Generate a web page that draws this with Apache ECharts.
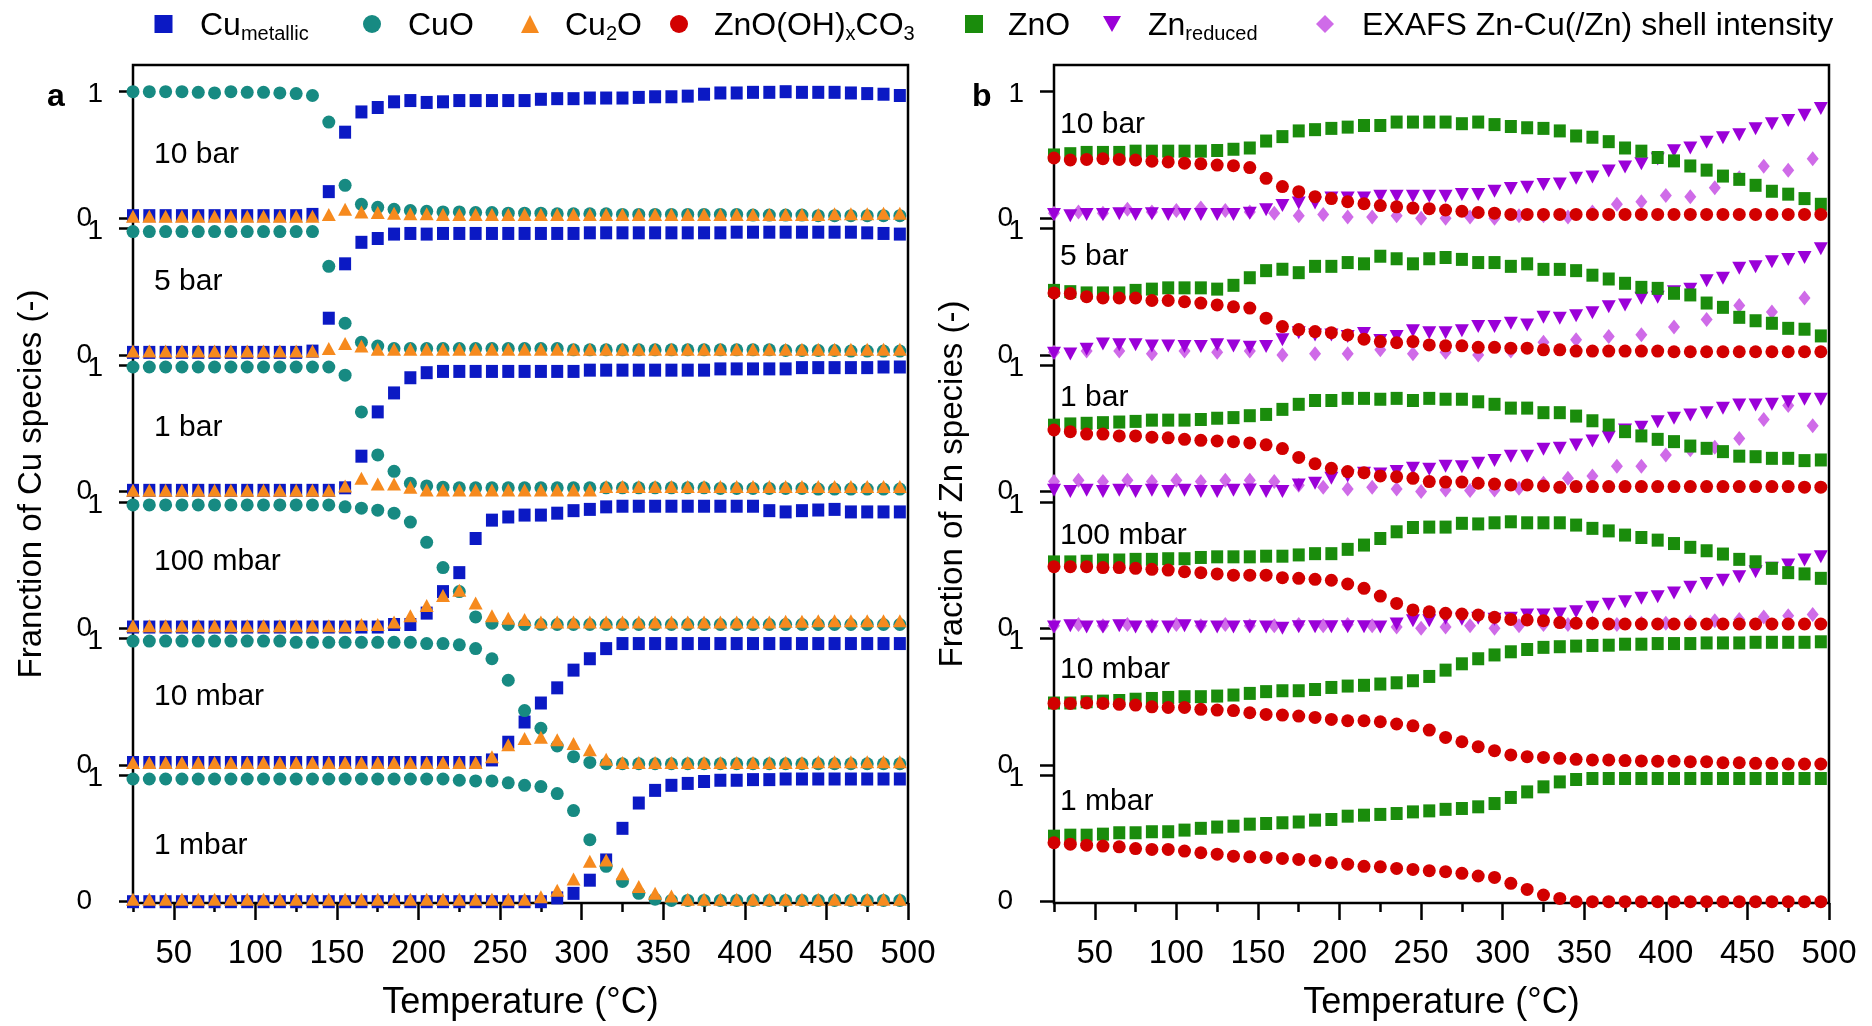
<!DOCTYPE html>
<html>
<head>
<meta charset="utf-8">
<script src="https://cdn.jsdelivr.net/npm/echarts@6/dist/echarts.min.js"></script>
<style>
html,body{margin:0;padding:0;background:#fff}
#chart{width:1872px;height:1026px}
</style>
</head>
<body>
<div id="chart"></div>
<script>
// temperatures (°C)
var tempsA = [25,35,45,55,65,75,85,95,105,115,125,135,145,155,165,175,185,195,205,215,225,235,245,255,265,275,285,295,305,315,325,335,345,355,365,375,385,395,405,415,425,435,445,455,465,475,485,495];
var temps15 = [25,40,55,70,85,100,115,130,145,160,175,190,205,220,235,250,265,280,295,310,325,340,355,370,385,400,415,430,445,460,475,490];
var temps20 = [25,45,65,85,105,125,145,165,185,205,225,245,265,285,305,325,345,365,385,405,425,445,465,485];

var pressures = ['10 bar', '5 bar', '1 bar', '100 mbar', '10 mbar', '1 mbar'];

// panel a: Cu species
var cuMet10bar = [0.02,0.02,0.02,0.02,0.02,0.02,0.02,0.02,0.02,0.02,0.02,0.03, 0.21,0.68,0.84,0.875,0.92,0.93,0.915,0.92,0.93,0.93,0.93,0.93, 0.93,0.94,0.945,0.945,0.95,0.95,0.95,0.955,0.96,0.96,0.965,0.98, 0.99,0.99,0.995,0.995,1.0,0.995,0.995,0.995,0.99,0.985,0.98,0.97];
var cuO10bar = [1.0,1.0,1.0,1.0,0.995,0.99,1.0,0.995,0.995,0.99,0.985,0.97, 0.76,0.26,0.11,0.086,0.07,0.06,0.055,0.05,0.05,0.045,0.045,0.04, 0.04,0.04,0.035,0.035,0.035,0.035,0.03,0.03,0.03,0.03,0.03,0.03, 0.03,0.03,0.025,0.025,0.025,0.025,0.02,0.02,0.02,0.02,0.02,0.02];
var cu2O10bar = [0.015,0.015,0.015,0.015,0.015,0.015,0.015,0.015,0.015,0.015,0.015,0.015, 0.03,0.07,0.05,0.045,0.04,0.035,0.035,0.03,0.03,0.03,0.03,0.03, 0.03,0.03,0.03,0.03,0.03,0.03,0.03,0.03,0.03,0.03,0.03,0.03, 0.03,0.03,0.03,0.03,0.03,0.03,0.03,0.035,0.035,0.035,0.04,0.04];

var cuMet5bar = [0.02,0.02,0.02,0.02,0.02,0.02,0.02,0.02,0.02,0.02,0.02,0.03, 0.29,0.72,0.89,0.92,0.955,0.96,0.955,0.96,0.96,0.96,0.96,0.96, 0.96,0.96,0.96,0.96,0.965,0.965,0.965,0.965,0.965,0.965,0.965,0.965, 0.965,0.97,0.97,0.97,0.97,0.97,0.97,0.97,0.97,0.965,0.96,0.955];
var cuO5bar = [0.975,0.975,0.975,0.975,0.975,0.975,0.975,0.975,0.975,0.975,0.975,0.975, 0.70,0.25,0.10,0.07,0.05,0.05,0.05,0.05,0.05,0.05,0.05,0.05, 0.05,0.05,0.05,0.04,0.04,0.04,0.04,0.04,0.04,0.04,0.04,0.04, 0.04,0.04,0.04,0.04,0.035,0.035,0.035,0.035,0.03,0.03,0.03,0.03];
var cu2O5bar = [0.03,0.03,0.03,0.03,0.03,0.03,0.03,0.03,0.03,0.03,0.03,0.03, 0.05,0.09,0.07,0.045,0.045,0.045,0.045,0.045,0.045,0.045,0.045,0.045, 0.045,0.045,0.045,0.045,0.045,0.045,0.045,0.045,0.045,0.045,0.045,0.045, 0.045,0.045,0.045,0.045,0.045,0.045,0.045,0.045,0.045,0.045,0.045,0.045];

var cuMet1bar = [0.01,0.01,0.01,0.01,0.01,0.01,0.01,0.01,0.01,0.01,0.01,0.01, 0.01,0.03,0.28,0.63,0.78,0.90,0.94,0.95,0.95,0.95,0.95,0.95, 0.95,0.95,0.95,0.95,0.96,0.96,0.96,0.96,0.96,0.96,0.96,0.96, 0.97,0.97,0.97,0.97,0.97,0.98,0.98,0.98,0.98,0.98,0.985,0.985];
var cuO1bar = [0.985,0.985,0.985,0.985,0.985,0.985,0.985,0.985,0.985,0.985,0.985,0.985, 0.985,0.92,0.63,0.29,0.16,0.066,0.045,0.035,0.03,0.03,0.03,0.03, 0.03,0.03,0.03,0.03,0.03,0.03,0.03,0.03,0.03,0.03,0.03,0.03, 0.025,0.025,0.025,0.025,0.025,0.025,0.02,0.02,0.02,0.02,0.02,0.02];
var cu2O1bar = [0.01,0.01,0.01,0.01,0.01,0.01,0.01,0.01,0.01,0.01,0.01,0.01, 0.01,0.045,0.105,0.06,0.06,0.034,0.013,0.013,0.013,0.013,0.013,0.013, 0.013,0.013,0.013,0.013,0.013,0.04,0.04,0.04,0.04,0.04,0.04,0.04, 0.04,0.04,0.04,0.04,0.04,0.04,0.04,0.04,0.04,0.04,0.04,0.04];

var cuMet100mbar = [0.01,0.01,0.01,0.01,0.01,0.01,0.01,0.01,0.01,0.01,0.01,0.01, 0.01,0.01,0.01,0.01,0.03,0.03,0.12,0.29,0.44,0.71,0.855,0.88, 0.895,0.895,0.91,0.93,0.94,0.96,0.965,0.965,0.965,0.965,0.965,0.965, 0.965,0.965,0.965,0.93,0.92,0.93,0.935,0.94,0.92,0.92,0.92,0.92];
var cuO100mbar = [0.975,0.975,0.975,0.975,0.975,0.975,0.975,0.975,0.975,0.975,0.975,0.975, 0.975,0.96,0.95,0.934,0.91,0.84,0.68,0.48,0.29,0.09,0.04,0.03, 0.03,0.03,0.03,0.03,0.03,0.03,0.03,0.03,0.03,0.03,0.03,0.03, 0.03,0.03,0.03,0.03,0.03,0.03,0.03,0.03,0.03,0.03,0.03,0.03];
var cu2O100mbar = [0.02,0.02,0.02,0.02,0.02,0.02,0.02,0.02,0.02,0.02,0.02,0.02, 0.02,0.02,0.03,0.03,0.05,0.10,0.18,0.26,0.30,0.20,0.10,0.08, 0.07,0.05,0.05,0.05,0.05,0.05,0.05,0.05,0.05,0.05,0.05,0.05, 0.05,0.05,0.05,0.05,0.055,0.055,0.06,0.06,0.06,0.06,0.06,0.06];

var cuMet10mbar = [0.02,0.02,0.02,0.02,0.02,0.02,0.02,0.02,0.02,0.02,0.02,0.02, 0.02,0.02,0.02,0.02,0.02,0.02,0.02,0.02,0.02,0.02,0.04,0.18, 0.34,0.49,0.61,0.75,0.84,0.92,0.96,0.96,0.96,0.96,0.96,0.96, 0.96,0.96,0.96,0.96,0.96,0.96,0.96,0.96,0.96,0.96,0.96,0.96];
var cuO10mbar = [0.98,0.98,0.98,0.98,0.98,0.98,0.98,0.98,0.98,0.98,0.97,0.97, 0.97,0.97,0.97,0.97,0.97,0.97,0.96,0.96,0.95,0.92,0.84,0.67, 0.43,0.29,0.15,0.066,0.02,0.01,0.01,0.01,0.01,0.01,0.01,0.01, 0.01,0.01,0.01,0.01,0.01,0.01,0.01,0.01,0.01,0.01,0.01,0.01];
var cu2O10mbar = [0.02,0.02,0.02,0.02,0.02,0.02,0.02,0.02,0.02,0.02,0.02,0.02, 0.02,0.02,0.02,0.02,0.02,0.02,0.02,0.02,0.02,0.02,0.066,0.16, 0.21,0.22,0.20,0.17,0.12,0.045,0.02,0.02,0.02,0.02,0.02,0.02, 0.02,0.02,0.02,0.02,0.02,0.02,0.025,0.025,0.025,0.025,0.025,0.025];

var cuMet1mbar = [0.0,0.0,0.0,0.0,0.0,0.0,0.0,0.0,0.0,0.0,0.0,0.0, 0.0,0.0,0.0,0.0,0.0,0.0,0.0,0.0,0.0,0.0,0.0,0.0, 0.0,0.0,0.03,0.066,0.17,0.33,0.58,0.78,0.88,0.92,0.935,0.95, 0.96,0.96,0.965,0.965,0.97,0.97,0.97,0.97,0.97,0.97,0.97,0.97];
var cuO1mbar = [0.97,0.97,0.97,0.97,0.97,0.97,0.97,0.97,0.97,0.97,0.97,0.97, 0.97,0.97,0.97,0.97,0.97,0.97,0.97,0.97,0.96,0.955,0.955,0.94, 0.92,0.91,0.855,0.72,0.49,0.28,0.16,0.066,0.02,0.01,0.01,0.01, 0.01,0.01,0.01,0.01,0.01,0.01,0.01,0.01,0.01,0.01,0.01,0.01];
var cu2O1mbar = [0.02,0.02,0.02,0.02,0.02,0.02,0.02,0.02,0.02,0.02,0.02,0.02, 0.02,0.02,0.02,0.02,0.02,0.02,0.02,0.02,0.02,0.02,0.02,0.02, 0.02,0.04,0.09,0.18,0.32,0.33,0.22,0.12,0.066,0.045,0.02,0.02, 0.02,0.02,0.02,0.02,0.02,0.02,0.02,0.02,0.02,0.02,0.02,0.02];

// panel b: Zn species
var znCarb10bar = [0.476,0.46,0.465,0.47,0.465,0.46,0.45,0.445,0.435,0.43,0.42,0.415, 0.40,0.315,0.25,0.21,0.17,0.155,0.13,0.115,0.10,0.09,0.08,0.075, 0.065,0.055,0.045,0.04,0.03,0.03,0.03,0.03,0.03,0.03,0.03,0.03, 0.03,0.03,0.03,0.03,0.03,0.03,0.03,0.03,0.03,0.03,0.03,0.03];
var znO10bar = [0.50,0.51,0.52,0.52,0.52,0.53,0.53,0.53,0.53,0.53,0.535,0.545, 0.555,0.61,0.645,0.69,0.70,0.71,0.72,0.733,0.733,0.76,0.76,0.76, 0.76,0.747,0.76,0.74,0.725,0.715,0.71,0.69,0.65,0.64,0.605,0.555, 0.53,0.48,0.453,0.413,0.38,0.333,0.307,0.26,0.213,0.19,0.155,0.11];
var znRed10bar = [0.03,0.02,0.03,0.03,0.035,0.03,0.035,0.03,0.03,0.03,0.03,0.03, 0.04,0.067,0.10,0.12,0.12,0.16,0.16,0.16,0.173,0.173,0.173,0.173, 0.173,0.187,0.187,0.213,0.235,0.245,0.267,0.27,0.315,0.325,0.373,0.405, 0.43,0.467,0.533,0.555,0.60,0.635,0.66,0.707,0.747,0.773,0.813,0.867];
var exafs10bar = [0.04,0.05,0.04,0.07,0.05,0.06,0.08,0.06,0.05,0.04,0.02,0.03,0.01,0.01,0.02,0.0,0.0,0.01,0.0,0.02,0.02,0.01,0.05,0.11,0.13,0.18,0.17,0.24,0.32,0.41,0.38,0.47];

var znCarb5bar = [0.49,0.485,0.46,0.45,0.45,0.45,0.43,0.43,0.42,0.41,0.395,0.38, 0.37,0.29,0.224,0.20,0.184,0.176,0.158,0.124,0.105,0.097,0.105,0.079, 0.072,0.072,0.06,0.06,0.053,0.053,0.04,0.04,0.03,0.03,0.03,0.03, 0.03,0.03,0.025,0.025,0.025,0.025,0.025,0.025,0.025,0.025,0.025,0.025];
var znO5bar = [0.51,0.50,0.49,0.49,0.49,0.51,0.52,0.53,0.53,0.53,0.52,0.55, 0.61,0.666,0.677,0.65,0.70,0.70,0.73,0.72,0.78,0.76,0.72,0.76, 0.77,0.755,0.73,0.73,0.70,0.72,0.676,0.676,0.666,0.63,0.60,0.566, 0.534,0.526,0.487,0.474,0.41,0.376,0.297,0.27,0.25,0.21,0.203,0.15];
var znRed5bar = [0.013,0.008,0.045,0.087,0.08,0.08,0.07,0.07,0.066,0.066,0.08,0.07, 0.06,0.066,0.12,0.176,0.158,0.158,0.145,0.17,0.113,0.145,0.19,0.176, 0.176,0.19,0.224,0.224,0.25,0.237,0.297,0.29,0.31,0.334,0.38,0.395, 0.447,0.455,0.50,0.518,0.587,0.605,0.684,0.697,0.737,0.755,0.77,0.84];
var exafs5bar = [0.02,0.03,0.03,0.01,0.03,0.02,0.03,0.0,0.01,0.01,0.04,0.01,0.02,0.0,0.03,0.10,0.12,0.145,0.16,0.22,0.28,0.39,0.34,0.45];

var znCarb1bar = [0.487,0.474,0.455,0.455,0.44,0.44,0.43,0.425,0.413,0.405,0.40,0.395, 0.385,0.37,0.34,0.27,0.22,0.184,0.158,0.15,0.124,0.118,0.105,0.079, 0.075,0.075,0.066,0.06,0.053,0.053,0.045,0.034,0.04,0.04,0.04,0.04, 0.04,0.04,0.04,0.04,0.04,0.04,0.04,0.04,0.04,0.04,0.035,0.035];
var znO1bar = [0.525,0.535,0.54,0.545,0.55,0.555,0.565,0.565,0.565,0.57,0.58,0.585, 0.60,0.61,0.65,0.69,0.72,0.72,0.737,0.737,0.73,0.737,0.72,0.737, 0.73,0.73,0.71,0.69,0.66,0.66,0.624,0.624,0.597,0.56,0.526,0.474, 0.44,0.413,0.395,0.36,0.342,0.316,0.28,0.276,0.263,0.263,0.245,0.25];
var znRed1bar = [0.01,0.0,0.01,0.0,0.01,0.0,0.01,0.0,0.01,0.0,0.0,0.01, 0.013,0.0,0.0,0.053,0.066,0.105,0.124,0.145,0.14,0.158,0.184,0.176, 0.20,0.197,0.224,0.245,0.28,0.28,0.334,0.342,0.368,0.40,0.43,0.487, 0.508,0.553,0.58,0.605,0.624,0.658,0.684,0.684,0.69,0.71,0.73,0.73];
var exafs1bar = [0.08,0.09,0.08,0.09,0.08,0.09,0.08,0.09,0.09,0.08,0.05,0.035,0.02,0.035,0.02,0.0,0.013,0.008,0.013,0.026,0.066,0.105,0.124,0.2,0.2,0.29,0.33,0.35,0.42,0.57,0.68,0.52];

var znCarb100mbar = [0.487,0.487,0.487,0.48,0.48,0.474,0.466,0.46,0.447,0.44,0.43,0.42, 0.42,0.42,0.40,0.395,0.387,0.38,0.35,0.316,0.255,0.197,0.145,0.13, 0.118,0.113,0.105,0.087,0.07,0.066,0.06,0.045,0.04,0.04,0.034,0.034, 0.034,0.034,0.034,0.034,0.034,0.034,0.034,0.034,0.034,0.034,0.034,0.034];
var znO100mbar = [0.525,0.525,0.53,0.54,0.54,0.545,0.545,0.55,0.55,0.56,0.565,0.565, 0.565,0.57,0.57,0.58,0.59,0.59,0.624,0.658,0.71,0.763,0.797,0.80, 0.80,0.83,0.825,0.834,0.842,0.834,0.834,0.834,0.816,0.79,0.77,0.737, 0.718,0.697,0.67,0.64,0.613,0.587,0.545,0.526,0.474,0.44,0.43,0.395];
var znRed100mbar = [0.01,0.02,0.01,0.01,0.02,0.01,0.01,0.01,0.02,0.01,0.01,0.01, 0.013,0.01,0.0,0.013,0.013,0.013,0.013,0.013,0.01,0.034,0.06,0.06, 0.08,0.072,0.08,0.072,0.08,0.105,0.105,0.113,0.13,0.166,0.19,0.21, 0.237,0.25,0.28,0.324,0.355,0.38,0.408,0.447,0.474,0.50,0.54,0.566];
var exafs100mbar = [0.02,0.03,0.02,0.03,0.02,0.03,0.02,0.03,0.02,0.02,0.03,0.02,0.03,0.02,0.01,0.0,0.01,0.02,0.0,0.02,0.03,0.03,0.04,0.03,0.04,0.04,0.05,0.06,0.07,0.09,0.10,0.11];

var znCarb10mbar = [0.487,0.487,0.49,0.487,0.48,0.474,0.46,0.455,0.455,0.44,0.434,0.43, 0.413,0.40,0.395,0.387,0.376,0.36,0.35,0.35,0.342,0.324,0.31,0.276, 0.218,0.184,0.145,0.113,0.08,0.066,0.06,0.053,0.045,0.04,0.04,0.035, 0.032,0.03,0.03,0.026,0.026,0.018,0.018,0.013,0.013,0.008,0.008,0.008];
var znO10mbar = [0.49,0.49,0.50,0.505,0.51,0.52,0.526,0.534,0.54,0.54,0.545,0.553, 0.566,0.58,0.587,0.587,0.597,0.613,0.624,0.63,0.64,0.65,0.666,0.70, 0.75,0.80,0.84,0.87,0.895,0.913,0.93,0.935,0.94,0.945,0.947,0.955, 0.955,0.96,0.96,0.96,0.965,0.965,0.965,0.97,0.97,0.97,0.97,0.974];

var znCarb1mbar = [0.466,0.455,0.447,0.44,0.434,0.42,0.413,0.413,0.40,0.387,0.376,0.36, 0.355,0.35,0.342,0.334,0.324,0.308,0.297,0.28,0.276,0.263,0.255,0.245, 0.237,0.224,0.203,0.192,0.145,0.097,0.053,0.026,0.0,0.0,0.0,0.0, 0.0,0.0,0.0,0.0,0.0,0.0,0.0,0.0,0.0,0.0,0.0,0.0];
var znO1mbar = [0.518,0.526,0.526,0.534,0.545,0.545,0.553,0.553,0.566,0.58,0.59,0.597, 0.613,0.618,0.624,0.63,0.645,0.65,0.676,0.684,0.69,0.697,0.71,0.718, 0.73,0.737,0.75,0.776,0.824,0.868,0.908,0.947,0.966,0.974,0.974,0.974, 0.974,0.974,0.974,0.974,0.974,0.974,0.974,0.974,0.974,0.974,0.974,0.974];

// ---- layout / style ----
var FONT = "'Liberation Sans', Arial, Helvetica, sans-serif";
var PANEL_LEFT = [133, 1054], PANEL_W = 775;
var FRAME_TOP = 65, FRAME_H = 849;
var SUB_TOP = 91.7, SUB_H = 126.5, SUB_STEP = 136.7;
var DOWN_TRI = 'path://M0,0L20,0L10,18Z';

var cuSpecies = [
    {name: 'Cu metallic', symbol: 'rect', size: [12, 13], color: '#0b19c4',
     sets: [cuMet10bar, cuMet5bar, cuMet1bar, cuMet100mbar, cuMet10mbar, cuMet1mbar]},
    {name: 'CuO', symbol: 'circle', size: 13, color: '#178a82',
     sets: [cuO10bar, cuO5bar, cuO1bar, cuO100mbar, cuO10mbar, cuO1mbar]},
    {name: 'Cu2O', symbol: 'triangle', size: [14, 13], color: '#f68a1e',
     sets: [cu2O10bar, cu2O5bar, cu2O1bar, cu2O100mbar, cu2O10mbar, cu2O1mbar]}
];
// drawn bottom -> top
var znSpecies = [
    {name: 'EXAFS', symbol: 'diamond', size: [12, 15], color: '#cf6be8',
     xs: [temps15, temps20, temps15, temps15],
     sets: [exafs10bar, exafs5bar, exafs1bar, exafs100mbar]},
    {name: 'Zn reduced', symbol: DOWN_TRI, size: [14, 13], color: '#9b00d8',
     sets: [znRed10bar, znRed5bar, znRed1bar, znRed100mbar]},
    {name: 'ZnO', symbol: 'rect', size: [12, 13], color: '#1a8c0c',
     sets: [znO10bar, znO5bar, znO1bar, znO100mbar, znO10mbar, znO1mbar]},
    {name: 'ZnO(OH)xCO3', symbol: 'circle', size: 13, color: '#d20000',
     sets: [znCarb10bar, znCarb5bar, znCarb1bar, znCarb100mbar, znCarb10mbar, znCarb1mbar]}
];

function pairs(xs, ys) {
    var out = [];
    for (var i = 0; i < ys.length; i++) { out.push([xs[i], ys[i]]); }
    return out;
}

var grid = [], xAxis = [], yAxis = [], series = [];
var tickLine = {color: '#000', width: 2.5};

for (var p = 0; p < 2; p++) {
    for (var k = 0; k < 6; k++) {
        var gi = p * 6 + k;
        grid.push({left: PANEL_LEFT[p], width: PANEL_W, top: SUB_TOP + k * SUB_STEP, height: SUB_H});
        xAxis.push({gridIndex: gi, type: 'value', min: 25, max: 500, show: false});
        yAxis.push({
            gridIndex: gi, type: 'value', min: 0, max: 1, interval: 1,
            axisLine: {show: false},
            splitLine: {show: false},
            axisTick: {length: 14, lineStyle: tickLine},
            axisLabel: {
                margin: 30,
                formatter: function (v) { return v === 1 ? '{one|1}' : '{zero|0}'; },
                rich: {
                    one: {fontSize: 28, fontFamily: FONT, color: '#000', padding: [6, 0, 0, 0]},
                    zero: {fontSize: 28, fontFamily: FONT, color: '#000', padding: [0, 11, 0, 0]}
                }
            }
        });
    }
}

// frame grids with the temperature axis
var yNames = ['Franction of Cu species (-)', 'Fraction of Zn species (-)'];
for (var p = 0; p < 2; p++) {
    grid.push({left: PANEL_LEFT[p], width: PANEL_W, top: FRAME_TOP, height: FRAME_H,
        show: true, borderColor: '#000', borderWidth: 2.5, backgroundColor: 'transparent'});
}
for (var p = 0; p < 2; p++) {
    xAxis.push({
        gridIndex: 12 + p, type: 'value', min: 25, max: 500, splitNumber: 10, position: 'bottom',
        axisLine: {show: false},
        axisTick: {length: 17, lineStyle: tickLine},
        axisLabel: {fontSize: 33, fontFamily: FONT, color: '#000', margin: 34, showMinLabel: false},
        splitLine: {show: false},
        name: 'Temperature (°C)', nameLocation: 'middle', nameGap: 82,
        nameTextStyle: {fontSize: 36, fontFamily: FONT, color: '#000'}
    });
}
for (var p = 0; p < 2; p++) {
    xAxis.push({
        gridIndex: 12 + p, type: 'value', min: 25, max: 500, interval: 25, position: 'bottom',
        axisLine: {show: false},
        axisTick: {length: 9, lineStyle: tickLine},
        axisLabel: {show: false},
        splitLine: {show: false}
    });
}
for (var p = 0; p < 2; p++) {
    yAxis.push({
        gridIndex: 12 + p, type: 'value', min: 0, max: 1,
        axisLine: {show: false}, axisTick: {show: false}, axisLabel: {show: false}, splitLine: {show: false},
        name: yNames[p], nameLocation: 'middle', nameGap: 85,
        nameTextStyle: {fontSize: 33, fontFamily: FONT, color: '#000'}
    });
}

function addSeries(sp, panel, k, xs, ys) {
    var gi = panel * 6 + k;
    series.push({
        type: 'scatter', name: sp.name, xAxisIndex: gi, yAxisIndex: gi,
        data: pairs(xs, ys), symbol: sp.symbol, symbolSize: sp.size,
        itemStyle: {color: sp.color, opacity: 1},
        clip: false, silent: true, animation: false
    });
}
cuSpecies.forEach(function (sp) {
    sp.sets.forEach(function (arr, k) { addSeries(sp, 0, k, tempsA, arr); });
});
znSpecies.forEach(function (sp) {
    sp.sets.forEach(function (arr, k) { addSeries(sp, 1, k, sp.xs ? sp.xs[k] : tempsA, arr); });
});

// legend (one component per entry so each sits where it does in the figure)
var richName = {
    'Cu metallic': '{m|Cu}{s|metallic}',
    'CuO': '{m|CuO}',
    'Cu2O': '{m|Cu}{s|2}{m|O}',
    'ZnO(OH)xCO3': '{m|ZnO(OH)}{s|x}{m|CO}{s|3}',
    'ZnO': '{m|ZnO}',
    'Zn reduced': '{m|Zn}{s|reduced}',
    'EXAFS': '{m|EXAFS Zn-Cu(/Zn) shell intensity}'
};
var legendItems = [
    {name: 'Cu metallic', icon: 'rect', cx: 163.5, tx: 200},
    {name: 'CuO', icon: 'circle', cx: 372, tx: 408},
    {name: 'Cu2O', icon: 'triangle', cx: 530, tx: 565},
    {name: 'ZnO(OH)xCO3', icon: 'circle', cx: 679, tx: 714},
    {name: 'ZnO', icon: 'rect', cx: 974, tx: 1008},
    {name: 'Zn reduced', icon: DOWN_TRI, cx: 1112, tx: 1148},
    {name: 'EXAFS', icon: 'diamond', cx: 1325, tx: 1362}
];
var legend = legendItems.map(function (it) {
    return {
        data: [{name: it.name, icon: it.icon}],
        left: it.cx - 9, top: 6, padding: 0,
        itemWidth: 18, itemHeight: 18, selectedMode: false,
        formatter: function (n) { return '{g| }' + richName[n]; },
        textStyle: {
            rich: {
                g: {width: it.tx - it.cx - 14},
                m: {fontSize: 32, lineHeight: 40, fontFamily: FONT, color: '#000', padding: [4, 0, 0, 0]},
                s: {fontSize: 20, lineHeight: 20, fontFamily: FONT, color: '#000', verticalAlign: 'bottom', padding: [4, 0, 0, 0]}
            }
        }
    };
});

// pressure labels and panel letters
var labelX = [154, 1060];
var labelY = [[155, 282, 428, 562, 697, 846], [125, 257, 398, 536, 670, 802]];
var graphic = [];
for (var p = 0; p < 2; p++) {
    for (var k = 0; k < 6; k++) {
        graphic.push({type: 'text', x: labelX[p], y: labelY[p][k], silent: true,
            style: {text: pressures[k], fontSize: 30, fontFamily: FONT, fill: '#000', verticalAlign: 'middle'}});
    }
}
graphic.push({type: 'text', x: 47, y: 97, style: {text: 'a', fontSize: 32, fontWeight: 'bold', fontFamily: FONT, fill: '#000', verticalAlign: 'middle'}});
graphic.push({type: 'text', x: 972, y: 97, style: {text: 'b', fontSize: 32, fontWeight: 'bold', fontFamily: FONT, fill: '#000', verticalAlign: 'middle'}});

var chart = echarts.init(document.getElementById('chart'));
chart.setOption({
    backgroundColor: '#fff',
    animation: false,
    legend: legend,
    grid: grid,
    xAxis: xAxis,
    yAxis: yAxis,
    series: series,
    graphic: graphic
});
</script>
</body>
</html>
